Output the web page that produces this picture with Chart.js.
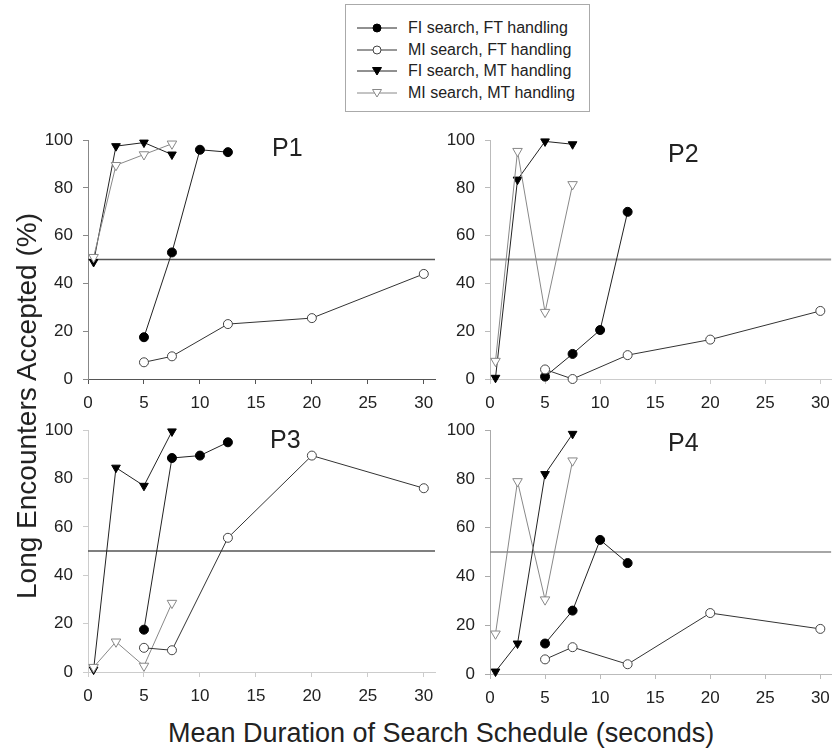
<!DOCTYPE html>
<html>
<head>
<meta charset="utf-8">
<script src="https://cdn.jsdelivr.net/npm/chart.js@4/dist/chart.umd.min.js"></script>
<style>
  body { margin: 0; background: #fff; font-family: "Liberation Sans", Arial, sans-serif; color: #222; }
  #wrap { position: relative; width: 839px; height: 752px; overflow: hidden; }
  canvas { position: absolute; }
  .lbl { position: absolute; white-space: nowrap; line-height: 1; }
  .ptitle { font-size: 25px; }
  #legend { position: absolute; left: 345px; top: 4px; width: 245px; height: 108px; border: 1px solid #aaa; box-sizing: border-box; }
  .row { position: absolute; left: 10px; height: 20px; font-size: 16px; line-height: 20px; }
  .row svg { position: absolute; left: 0; top: 0; }
  .row span { position: absolute; left: 52px; top: 0; white-space: nowrap; }
</style>
</head>
<body>
<div id="wrap">
  <div id="legend"></div>
  <canvas id="p1" width="445" height="300" style="left:0;top:120px"></canvas>
  <canvas id="p2" width="419" height="300" style="left:420px;top:120px"></canvas>
  <canvas id="p3" width="445" height="300" style="left:0;top:410px"></canvas>
  <canvas id="p4" width="419" height="300" style="left:420px;top:410px"></canvas>
  <div class="lbl ptitle" style="left:272px;top:135px">P1</div>
  <div class="lbl ptitle" style="left:668px;top:141px">P2</div>
  <div class="lbl ptitle" style="left:270px;top:427px">P3</div>
  <div class="lbl ptitle" style="left:668px;top:430px">P4</div>
  <div class="lbl" style="left:27px;top:406px;font-size:28px;transform:translate(-50%,-50%) rotate(-90deg)">Long Encounters Accepted (%)</div>
  <div class="lbl" style="left:168px;top:720px;font-size:27px">Mean Duration of Search Schedule (seconds)</div>
</div>
<script>
// x positions (seconds)
const xFiFT = [5, 7.5, 10, 12.5];
const xMiFT = [5, 7.5, 12.5, 20, 30];
const xMT = [0.5, 2.5, 5, 7.5];

const xTicks = [0, 5, 10, 15, 20, 25, 30];
const yTicks = [0, 20, 40, 60, 80, 100];
const refLevel = 50;

const seriesNames = ["FI search, FT handling", "MI search, FT handling", "FI search, MT handling", "MI search, MT handling"];

// % long encounters accepted, per participant
const p1FiFT = [17.5, 53, 96, 95];
const p1MiFT = [7, 9.5, 23, 25.5, 44];
const p1FiMT = [49, 97.5, 99, 94];
const p1MiMT = [51, 89.5, 94, 98.5];

const p2FiFT = [1, 10.5, 20.5, 70];
const p2MiFT = [4, 0, 10, 16.5, 28.5];
const p2FiMT = [0.5, 83.5, 99.5, 98.3];
const p2MiMT = [7.5, 95.4, 28, 81.5];

const p3FiFT = [17.5, 88.5, 89.5, 95];
const p3MiFT = [10, 9, 55.5, 89.5, 76];
const p3FiMT = [1, 84.5, 77, 99.5];
const p3MiMT = [2, 12.5, 2.5, 28.5];

const p4FiFT = [12.5, 26, 55, 45.5];
const p4MiFT = [6, 11, 4, 25, 18.5];
const p4FiMT = [1, 12.5, 82, 98.5];
const p4MiMT = [16.5, 79, 30.5, 87.5];

const FONT = "'Liberation Sans', Arial, sans-serif";

const styles = [
  { pointStyle: "circle", rotation: 0, radius: 4.5, fill: "#000", stroke: "#000", line: "#222" },
  { pointStyle: "circle", rotation: 0, radius: 4.5, fill: "#fff", stroke: "#444", line: "#333" },
  { pointStyle: "triangle", rotation: 180, radius: 5, fill: "#000", stroke: "#000", line: "#222" },
  { pointStyle: "triangle", rotation: 180, radius: 5.5, fill: "#fff", stroke: "#888", line: "#888" },
];

function pts(xs, ys) {
  return xs.map((x, i) => ({ x: x, y: ys[i] }));
}

function seriesDs(i, data) {
  const s = styles[i];
  return {
    label: seriesNames[i],
    data: data,
    borderColor: s.line,
    borderWidth: 1,
    pointStyle: s.pointStyle,
    pointRotation: s.rotation,
    pointRadius: s.radius,
    pointBackgroundColor: s.fill,
    pointBorderColor: s.stroke,
    pointBorderWidth: 1,
    tension: 0,
    clip: false,
  };
}

function makePanel(id, fiFT, miFT, fiMT, miMT, opt) {
  const datasets = [
    seriesDs(1, pts(xMiFT, miFT)),
    seriesDs(3, pts(xMT, miMT)),
    seriesDs(2, pts(xMT, fiMT)),
    seriesDs(0, pts(xFiFT, fiFT)),
    {
      label: "50%",
      data: [{ x: 0, y: refLevel }, { x: 31, y: refLevel }],
      borderColor: opt.refColor,
      borderWidth: opt.refWidth,
      pointRadius: 0,
    },
  ];
  new Chart(document.getElementById(id), {
    type: "line",
    data: { datasets },
    options: {
      responsive: false,
      animation: false,
      devicePixelRatio: 1,
      layout: { padding: { left: 0, top: opt.top, right: opt.right, bottom: 0 } },
      plugins: { legend: { display: false }, tooltip: { enabled: false } },
      scales: {
        x: {
          type: "linear",
          min: 0,
          max: 31,
          afterBuildTicks: (scale) => { scale.ticks = xTicks.map((v) => ({ value: v })); },
          afterFit: (scale) => { scale.height = opt.xh; },
          ticks: { color: "#222", font: { family: FONT, size: 17 }, padding: 9, maxRotation: 0, autoSkip: false },
          grid: { drawOnChartArea: false, drawTicks: true, tickLength: 5, color: opt.xColor },
          border: { display: true, color: opt.xColor, width: 1 },
        },
        y: {
          type: "linear",
          min: 0,
          max: 100,
          afterBuildTicks: (scale) => { scale.ticks = yTicks.map((v) => ({ value: v })); },
          afterFit: (scale) => { scale.width = opt.yw; },
          ticks: { color: "#222", font: { family: FONT, size: 17 }, padding: 10 },
          grid: { drawOnChartArea: false, drawTicks: true, tickLength: 5, color: opt.yColor },
          border: { display: true, color: opt.yColor, width: 1 },
        },
      },
    },
  });
}

makePanel("p1", p1FiFT, p1MiFT, p1FiMT, p1MiMT,
  { top: 17, right: 10, xh: 41, yw: 88, xColor: "#555", yColor: "#888", refColor: "#555", refWidth: 1.5 });
makePanel("p2", p2FiFT, p2MiFT, p2FiMT, p2MiMT,
  { top: 17, right: 1, xh: 41, yw: 70, xColor: "#ccc", yColor: "#bbb", refColor: "#999", refWidth: 2 });
makePanel("p3", p3FiFT, p3MiFT, p3FiMT, p3MiMT,
  { top: 17, right: 10, xh: 38, yw: 88, xColor: "#ccc", yColor: "#ccc", refColor: "#555", refWidth: 1.5 });
makePanel("p4", p4FiFT, p4MiFT, p4FiMT, p4MiMT,
  { top: 20, right: 1, xh: 36, yw: 70, xColor: "#bbb", yColor: "#aaa", refColor: "#888", refWidth: 1.5 });

// legend rows with line + marker samples
const legend = document.getElementById("legend");
seriesNames.forEach((name, i) => {
  const s = styles[i];
  const row = document.createElement("div");
  row.className = "row";
  row.style.top = (13 + i * 21.7) + "px";
  let marker;
  if (s.pointStyle === "circle") {
    marker = `<circle cx="21" cy="10" r="${s.radius - 0.5}" fill="${s.fill}" stroke="${s.stroke}"/>`;
  } else {
    marker = `<polygon points="16.5,6.5 25.5,6.5 21,14" fill="${s.fill}" stroke="${s.stroke}"/>`;
  }
  row.innerHTML = `<svg width="44" height="20"><line x1="1" y1="10" x2="41" y2="10" stroke="${s.line}" stroke-width="1"/>${marker}</svg><span>${name}</span>`;
  legend.appendChild(row);
});
</script>
</body>
</html>
